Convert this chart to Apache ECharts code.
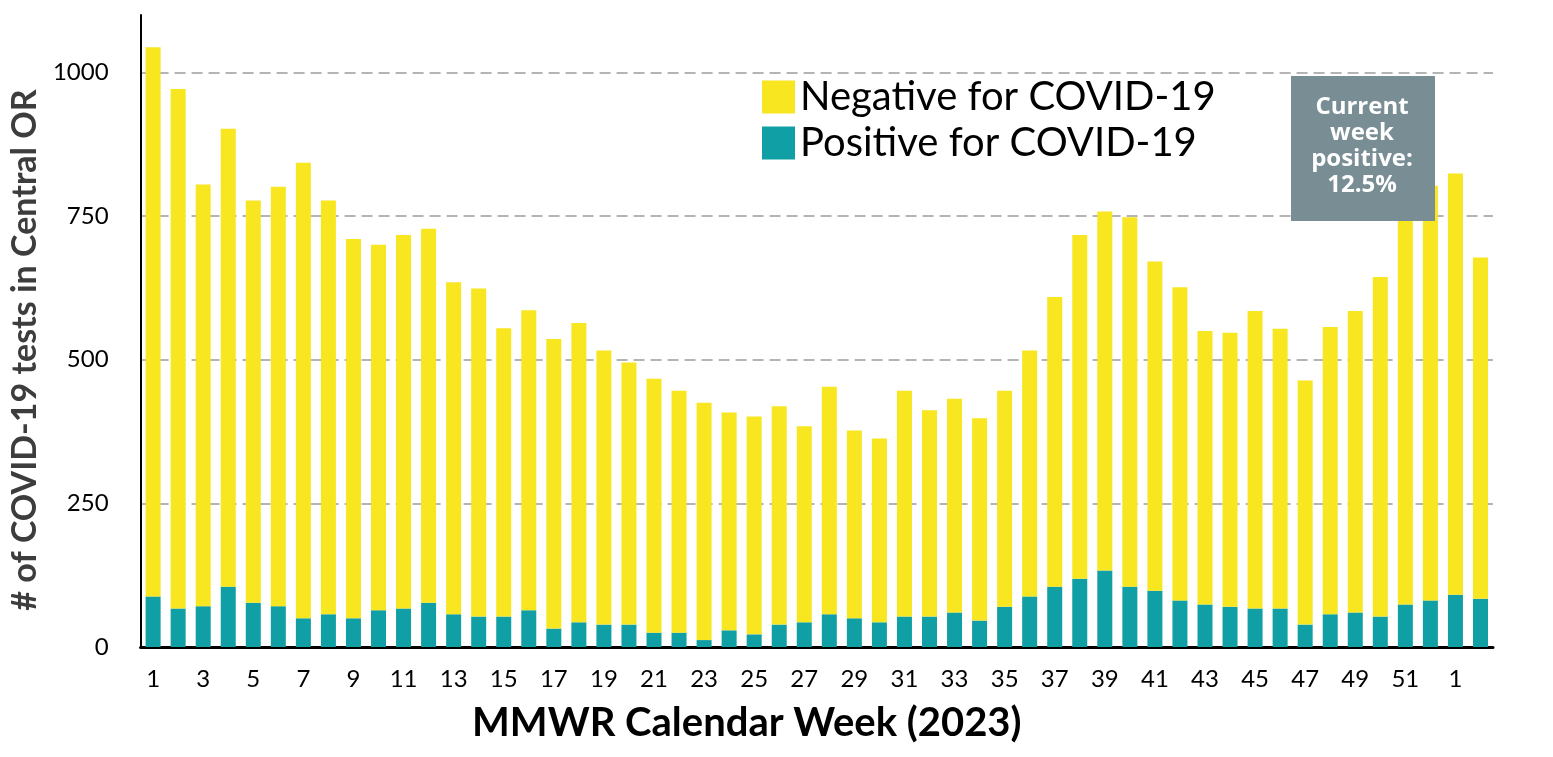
<!DOCTYPE html>
<html>
<head>
<meta charset="utf-8">
<script src="https://cdn.jsdelivr.net/npm/echarts@6/dist/echarts.min.js"></script>
<style>
  html, body { margin: 0; padding: 0; background: #fff; }
  #chart { width: 1553px; height: 757px; }
</style>
</head>
<body>
<div id="chart"></div>
<script>
// weeks of 2023, then the first two weeks of 2024
var weeks = ['1','2','3','4','5','6','7','8','9','10','11','12','13','14','15','16','17','18','19','20',
  '21','22','23','24','25','26','27','28','29','30','31','32','33','34','35','36','37','38','39','40',
  '41','42','43','44','45','46','47','48','49','50','51','52','1','2'];

// positive tests per week
var positive = [88,67,71,105,77,71,50,57,50,64,67,77,57,53,53,64,32,43,39,39,
  25,25,12,29,22,39,43,57,50,43,53,53,60,46,70,88,105,119,133,105,
  98,81,74,70,67,67,39,57,60,53,74,81,91,84];

// negative tests per week
var negative = [956,904,734,797,700,730,793,720,660,636,650,651,578,571,502,522,504,521,477,456,
  442,421,413,379,379,380,341,396,327,320,393,359,372,352,376,428,504,598,625,643,
  573,545,476,477,518,487,425,500,525,591,711,722,733,594];

var yTicks = [0, 250, 500, 750, 1000];

var chart = echarts.init(document.getElementById('chart'));

var option = {
  animation: false,
  grid: { left: 137, right: 60, top: 15, bottom: 110 },
  legend: {
    orient: 'vertical',
    left: 762, top: 77,
    padding: 0,
    itemWidth: 33, itemHeight: 33, itemGap: 6,
    icon: 'rect',
    data: ['Negative for COVID-19', 'Positive for COVID-19'],
    textStyle: { fontFamily: 'Lato', fontSize: 40, lineHeight: 33, color: '#000' }
  },
  xAxis: {
    type: 'category',
    data: weeks,
    name: 'MMWR Calendar Week (2023)',
    nameLocation: 'middle',
    nameGap: 56,
    nameTextStyle: { fontFamily: 'Lato', fontWeight: 'bold', fontSize: 40, color: '#000', padding: [0, 140, 0, 0] },
    axisLine: { lineStyle: { color: '#000', width: 3 } },
    axisTick: { show: false },
    axisLabel: { interval: 1, margin: 20, fontFamily: 'Lato', fontSize: 24, color: '#000' }
  },
  yAxis: {
    type: 'value',
    min: yTicks[0], max: 1100, interval: 250,
    name: '# of COVID-19 tests in Central OR',
    nameLocation: 'middle',
    nameGap: 94,
    nameTextStyle: { fontFamily: 'Lato', fontWeight: 'bold', fontSize: 34, color: '#3d3d3d', padding: [0, 38, 0, 0] },
    axisLine: { show: true, lineStyle: { color: '#000', width: 2 } },
    axisTick: { show: false },
    axisLabel: {
      showMaxLabel: false, margin: 32, fontFamily: 'Lato', fontSize: 24, color: '#000',
      formatter: function (v) { return String(v); }
    },
    splitLine: {
      show: true, showMinLine: false, showMaxLine: false,
      lineStyle: { color: '#b4b4b4', width: 2, type: [11, 6] }
    }
  },
  series: [
    {
      name: 'Positive for COVID-19',
      type: 'bar',
      stack: 'tests',
      barWidth: 15,
      itemStyle: { color: '#109fa4' },
      data: positive
    },
    {
      name: 'Negative for COVID-19',
      type: 'bar',
      stack: 'tests',
      barWidth: 15,
      itemStyle: { color: '#f7e620' },
      data: negative
    }
  ],
  graphic: [
    {
      type: 'group',
      left: 1291, top: 76,
      children: [
        { type: 'rect', z: 100, shape: { x: 0, y: 0, width: 144, height: 145 }, style: { fill: '#788d94' } },
        {
          type: 'text',
          z: 101,
          x: 71, y: 70,
          style: {
            text: 'Current\nweek\npositive:\n12.5%',
            align: 'center', verticalAlign: 'middle',
            font: 'bold 24px "Open Sans"', lineHeight: 26,
            fill: '#fff'
          }
        }
      ]
    }
  ]
};

chart.setOption(option);
</script>
</body>
</html>
